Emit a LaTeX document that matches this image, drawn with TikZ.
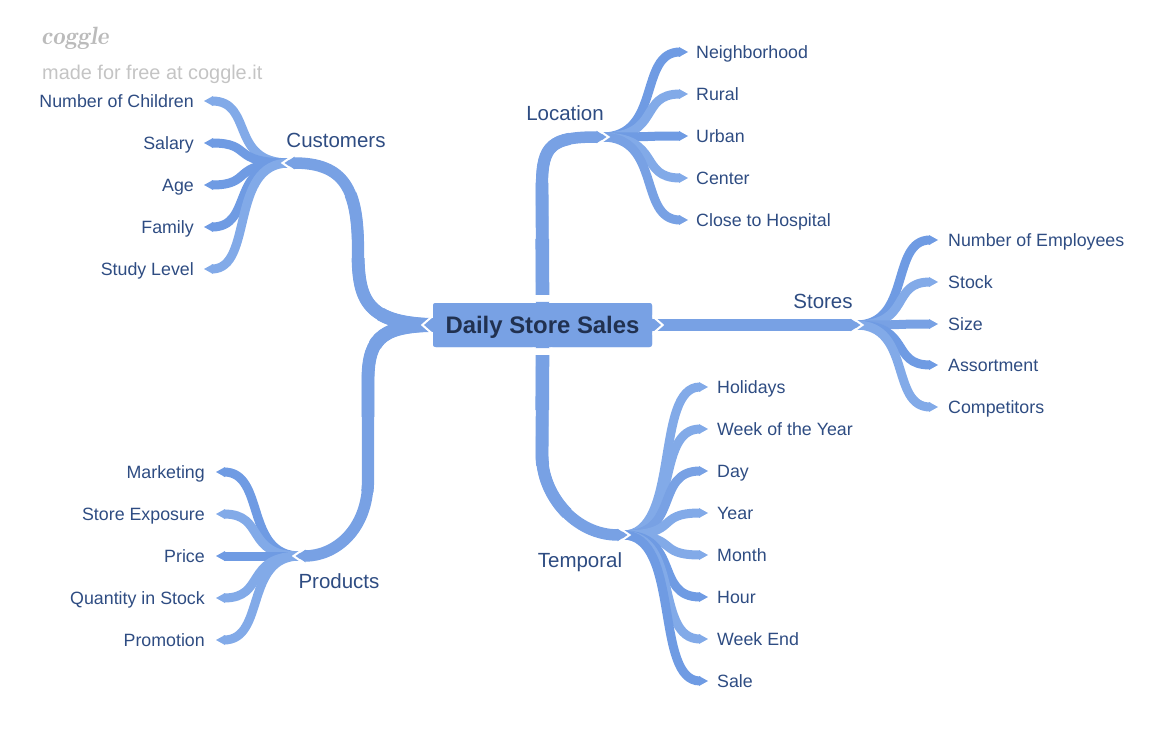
\documentclass[tikz,border=0pt]{standalone}
\usepackage{fontspec}
\setmainfont{Liberation Sans}
\usetikzlibrary{calc}
\definecolor{br}{HTML}{78A1E4}
\definecolor{brd}{HTML}{6F9BE3}
\definecolor{brl}{HTML}{82AAE8}
\definecolor{txt}{HTML}{2E4C82}
\definecolor{ctxt}{HTML}{213150}
\definecolor{logogray}{HTML}{C4C4C4}
\definecolor{logodark}{HTML}{BBBBBB}
\tikzset{
  leafline/.style={line width=9pt},
  mainbranch/.style n args={3}{draw=br, line width=11.5pt,
    preaction={draw=br, line width=12.2pt, dash pattern=on #1 off 3000pt},
    preaction={draw=br, line width=12.9pt, dash pattern=on #2 off 3000pt},
    preaction={draw=br, line width=13.6pt, dash pattern=on #3 off 3000pt}},
  leaflabel/.style={text=txt, font=\fontsize{17.8}{20}\selectfont, inner sep=0pt, text height=12.8pt, text depth=0pt},
  brlabel/.style={text=txt, font=\fontsize{20.5}{24}\selectfont, inner sep=0pt, text height=14.7pt, text depth=0pt},
  chev/.style={draw=white, line width=2pt, line join=miter, line cap=butt},
  centerbox/.style={fill=br, minimum width=219pt, minimum height=44pt, rounded corners=2.5pt, text=ctxt, inner sep=0pt, text height=17.1pt, text depth=0pt, font=\fontsize{23.9}{26}\selectfont\bfseries},
}
\newcommand\maintip[2]{\fill[br] ($(#1)+({-9.5*#2},-6.4)$) -- (#1) -- ($(#1)+({-9.5*#2},6.4)$) -- cycle;}
\newcommand\groupchev[2]{\draw[chev] ($(#1)+({-9*#2},-8)$) -- ($(#1)+({2.5*#2},0)$) -- ($(#1)+({-9*#2},8)$);}
\begin{document}
\begin{tikzpicture}[x=1pt,y=-1pt]
\useasboundingbox (0,0) rectangle (1170,741);

% logo
\node[anchor=west, inner sep=0pt, text=logodark, font=\fontsize{25}{28}\selectfont\fontfamily{lmr}\selectfont\bfseries\itshape] (logo) at (41,38) {coggle};
\node[anchor=west, inner sep=0pt, text=logogray, font=\fontsize{19.9}{22}\selectfont] (made) at (42,74) {made for free at coggle.it};

% center node
\node[centerbox] (center) at (542.5,325) {Daily Store Sales};
\coordinate (cL) at ($(center.west)+(8,0)$);
\coordinate (cR) at ($(center.east)+(-8,0)$);
\coordinate (cT) at ($(center.north)+(0,-8)$);
\coordinate (cB) at ($(center.south)+(0,8)$);

% main branch tips
\coordinate (custT) at (285,163);
\coordinate (prodT) at (296,556);
\coordinate (locT) at (606,137);
\coordinate (stoT) at (860,325);
\coordinate (temT) at (627,535);
\coordinate (custR) at ($(custT)+(4,0)$);
\coordinate (prodR) at ($(prodT)+(4,0)$);
\coordinate (locR) at ($(locT)+(-4,0)$);
\coordinate (stoR) at ($(stoT)+(-4,0)$);
\coordinate (temR) at ($(temT)+(-4,0)$);

% ---- leaves: Customers
\foreach \y/\lab/\col [count=\i] in {101/Number of Children/brl, 143/Salary/brd, 185/Age/brd, 227/Family/brd, 269/Study Level/brl} {
  \coordinate (cu\i) at (204,\y);
  \draw[leafline,\col] (custR) .. controls +(-60,0) and +(42,0) .. ($(cu\i)+(8,0)$);
  \fill[\col] ($(cu\i)+(9,-5)$) -- (cu\i) -- ($(cu\i)+(9,5)$) -- cycle;
  \node[leaflabel,anchor=east] (cul\i) at ($(cu\i)+(-10,0)$) {\lab};
}
% ---- leaves: Products
\foreach \y/\lab/\col [count=\i] in {472/Marketing/brd, 514/Store Exposure/brl, 556/Price/brd, 598/Quantity in Stock/brl, 640/Promotion/brl} {
  \coordinate (pr\i) at (216,\y);
  \draw[leafline,\col] (prodR) .. controls +(-56,0) and +(42,0) .. ($(pr\i)+(8,0)$);
  \fill[\col] ($(pr\i)+(9,-5)$) -- (pr\i) -- ($(pr\i)+(9,5)$) -- cycle;
  \node[leaflabel,anchor=east] (prl\i) at ($(pr\i)+(-11,0)$) {\lab};
}
% ---- leaves: Location
\foreach \y/\lab/\col [count=\i] in {52/Neighborhood/brd, 94/Rural/brl, 136/Urban/brd, 178/Center/brl, 220/Close to Hospital/br} {
  \coordinate (lo\i) at (688,\y);
  \draw[leafline,\col] (locR) .. controls +(60,0) and +(-42,0) .. ($(lo\i)+(-8,0)$);
  \fill[\col] ($(lo\i)+(-9,-5)$) -- (lo\i) -- ($(lo\i)+(-9,5)$) -- cycle;
  \node[leaflabel,anchor=west] (lol\i) at ($(lo\i)+(8,0)$) {\lab};
}
% ---- leaves: Stores
\foreach \y/\lab/\col [count=\i] in {240/Number of Employees/brd, 282/Stock/brl, 324/Size/br, 365/Assortment/brd, 407/Competitors/brl} {
  \coordinate (st\i) at (938,\y);
  \draw[leafline,\col] (stoR) .. controls +(56,0) and +(-40,0) .. ($(st\i)+(-8,0)$);
  \fill[\col] ($(st\i)+(-9,-5)$) -- (st\i) -- ($(st\i)+(-9,5)$) -- cycle;
  \node[leaflabel,anchor=west] (stl\i) at ($(st\i)+(10,0)$) {\lab};
}
% ---- leaves: Temporal
\foreach \y/\lab/\col [count=\i] in {387/Holidays/brl, 429/Week of the Year/brl, 471/Day/br, 513/Year/brl, 555/Month/brl, 597/Hour/brd, 639/Week End/brl, 681/Sale/brd} {
  \coordinate (te\i) at (708,\y);
  \draw[leafline,\col] (temR) .. controls +(58,0) and +(-46,0) .. ($(te\i)+(-8,0)$);
  \fill[\col] ($(te\i)+(-9,-5)$) -- (te\i) -- ($(te\i)+(-9,5)$) -- cycle;
  \node[leaflabel,anchor=west] (tel\i) at ($(te\i)+(9,0)$) {\lab};
}

% ---- main branches
\path[mainbranch={190pt}{125pt}{62pt}] (cL) .. controls (365,325) and (358,300) .. (358,250)
   .. controls (358,190) and (345,163) .. ($(custT)+(9,0)$);
\maintip{custT}{-1}
\path[mainbranch={220pt}{145pt}{72pt}] (cL) .. controls (385,325) and (368,335) .. (368,380) -- (368,480)
   .. controls (368,530) and (335,556) .. ($(prodT)+(9,0)$);
\maintip{prodT}{-1}
\path[mainbranch={170pt}{112pt}{56pt}] (cT) -- (542,185) .. controls (542,145) and (552,137) .. ($(locT)+(-9,0)$);
\maintip{locT}{1}
\path[mainbranch={165pt}{110pt}{55pt}] (cB) -- (542,455) .. controls (542,495) and (575,535) .. ($(temT)+(-9,0)$);
\maintip{temT}{1}
\draw[br, line width=12pt] (cR) -- ($(stoT)+(-9,0)$);
\maintip{stoT}{1}

% ---- white notches at junctions
\groupchev{custT}{-1}
\groupchev{prodT}{-1}
\groupchev{locT}{1}
\groupchev{stoT}{1}
\groupchev{temT}{1}

% ---- center node notches and tips
\draw[chev] ($(center.west)+(0.5,-9.6)$) -- ($(center.west)+(-10.5,0)$) -- ($(center.west)+(0.5,9.6)$);
\draw[chev] ($(center.east)+(-0.5,-9.6)$) -- ($(center.east)+(10.5,0)$) -- ($(center.east)+(-0.5,9.6)$);
\draw[chev] ($(center.north)+(-9.6,-0.5)$) -- ($(center.north)+(0,10.5)$) -- ($(center.north)+(9.6,-0.5)$);
\draw[chev] ($(center.south)+(-9.6,0.5)$) -- ($(center.south)+(0,-10.5)$) -- ($(center.south)+(9.6,0.5)$);
\node[centerbox] (center2) at (center) {Daily Store Sales};
\fill[br] ($(center.west)+(1,-7)$) -- ($(center.west)+(-8,0)$) -- ($(center.west)+(1,7)$) -- cycle;
\fill[br] ($(center.east)+(-1,-7)$) -- ($(center.east)+(8,0)$) -- ($(center.east)+(-1,7)$) -- cycle;
\fill[br] ($(center.north)+(-7,-1)$) -- ($(center.north)+(0,8)$) -- ($(center.north)+(7,-1)$) -- cycle;
\fill[br] ($(center.south)+(-7,1)$) -- ($(center.south)+(0,-8)$) -- ($(center.south)+(7,1)$) -- cycle;

% ---- branch labels
\node[brlabel] (custlab) at (336,140) {Customers};
\node[brlabel] (loclab) at (565,113) {Location};
\node[brlabel] (stolab) at (823,301) {Stores};
\node[brlabel] (temlab) at (580,560) {Temporal};
\node[brlabel] (prodlab) at (339,581) {Products};
\end{tikzpicture}
\end{document}
